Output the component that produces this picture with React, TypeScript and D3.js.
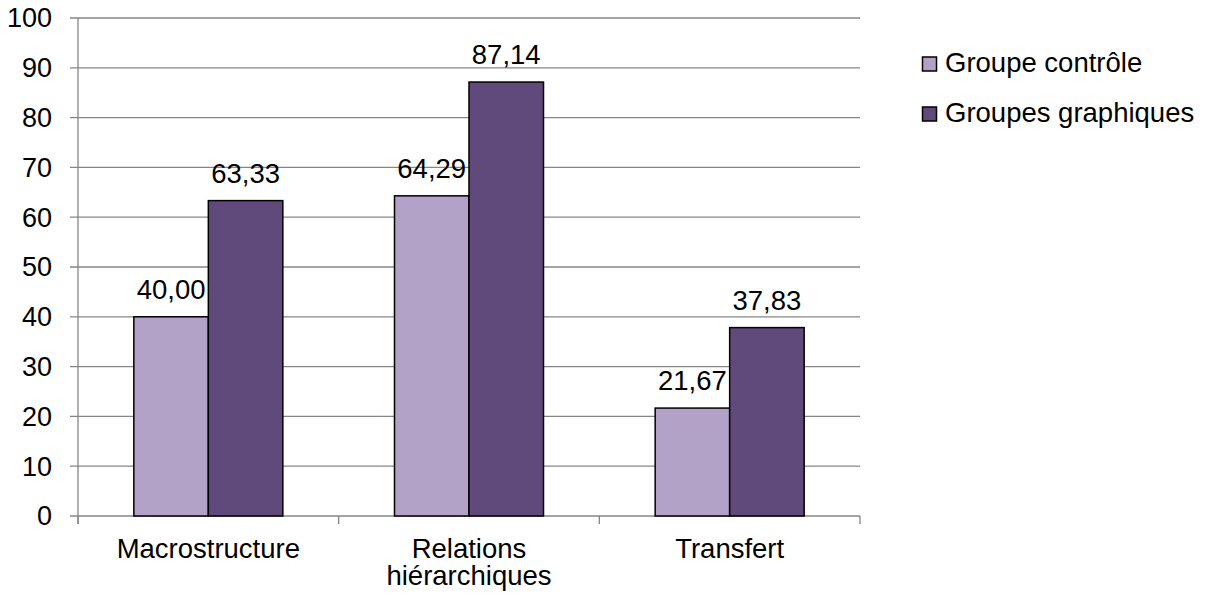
import React from "react";
import * as d3 from "d3";

const categories = ["Macrostructure", "Relations hiérarchiques", "Transfert"];
const categoryLines = [["Macrostructure"], ["Relations", "hiérarchiques"], ["Transfert"]];
const seriesNames = ["Groupe contrôle", "Groupes graphiques"];
const controle = [40.0, 64.29, 21.67];
const graphiques = [63.33, 87.14, 37.83];
const yTicks = [0, 10, 20, 30, 40, 50, 60, 70, 80, 90, 100];
const colors = ["#B3A2C7", "#604A7B"];

export default function App() {
  const W = 1207, H = 598;
  const left = 78, right = 860, top = 18, bottom = 516;
  const x = d3.scaleBand<string>().domain(categories).range([left, right]).paddingInner(0).paddingOuter(0);
  const y = d3.scaleLinear().domain([0, 100]).range([bottom, top]);
  const bw = 74.5;
  const series = [controle, graphiques];
  const fmt = (v: number) => v.toFixed(2).replace(".", ",");
  const font = "'Liberation Sans', Arial, sans-serif";
  const fs = 27.5;
  return (
    <svg width={W} height={H} style={{ position: "absolute", left: 0, top: 0 }} fontFamily={font}>
      <rect x={0} y={0} width={W} height={H} fill="#fff" />
      {yTicks.map((t) => (
        <g key={t}>
          <line x1={left - 8} x2={right} y1={y(t)} y2={y(t)} stroke="#868686" strokeWidth={1.3} />
          <text x={52} y={y(t)} dy="0.35em" textAnchor="end" fontSize={27} fill="#000">{t}</text>
        </g>
      ))}
      <line x1={left} x2={left} y1={top} y2={bottom + 8} stroke="#868686" strokeWidth={1.3} />
      {[...categories.map((c) => x(c)!), right].map((px, i) => (
        <line key={i} x1={px} x2={px} y1={bottom} y2={bottom + 8} stroke="#868686" strokeWidth={1.3} />
      ))}
      {categories.map((c, i) => {
        const cx = x(c)! + x.bandwidth() / 2;
        return (
          <g key={c}>
            {series.map((s, j) => {
              const bx = cx - bw + j * bw;
              return (
                <g key={j}>
                  <rect x={bx} y={y(s[i])} width={bw} height={bottom - y(s[i])} fill={colors[j]} stroke="#000" strokeWidth={1.5} />
                  <text x={bx + bw / 2} y={y(s[i]) - 18} textAnchor="middle" fontSize={fs} fill="#000">{fmt(s[i])}</text>
                </g>
              );
            })}
            {categoryLines[i].map((l, k) => (
              <text key={k} x={cx} y={558 + k * 27} textAnchor="middle" fontSize={fs} fill="#000">{l}</text>
            ))}
          </g>
        );
      })}
      {seriesNames.map((n, j) => (
        <g key={n}>
          <rect x={922.5} y={57 + j * 50} width={14} height={14} fill={colors[j]} stroke="#000" strokeWidth={1.5} />
          <text x={945} y={72 + j * 50} fontSize={fs} fill="#000">{n}</text>
        </g>
      ))}
    </svg>
  );
}
